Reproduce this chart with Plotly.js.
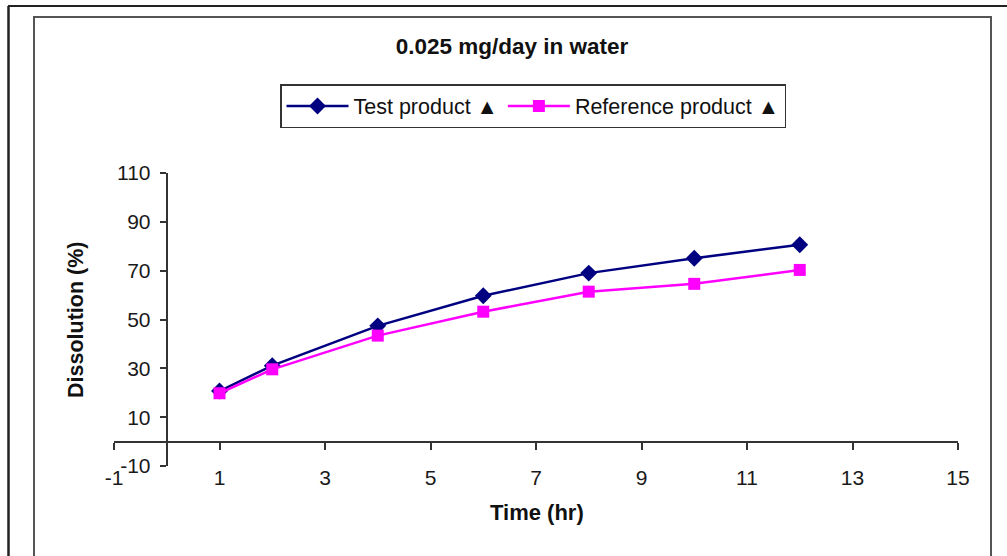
<!DOCTYPE html>
<html>
<head>
<meta charset="utf-8">
<script src="https://cdn.plot.ly/plotly-3.0.1.min.js"></script>
<style>
  html, body { margin: 0; padding: 0; background: #fff; }
  #chart { width: 1007px; height: 556px; }
</style>
</head>
<body>
<div id="chart"></div>
<script>
// Sampling times (hours)
const timeHr = [1, 2, 4, 6, 8, 10, 12];
// Dissolution (%) for each product
const testProduct = [20.7, 31.1, 47.4, 59.7, 69.0, 75.1, 80.6];
const referenceProduct = [19.8, 29.6, 43.4, 53.2, 61.4, 64.6, 70.3];
// Series names
const seriesNames = ['Test product \u25B2', 'Reference product \u25B2'];
// Axis ticks (plain hyphen for negatives)
const xTickVals = [-1, 1, 3, 5, 7, 9, 11, 13, 15];
const xTickText = ['-1', '1', '3', '5', '7', '9', '11', '13', '15'];
const yTickVals = [-10, 10, 30, 50, 70, 90, 110];
const yTickText = ['-10', '10', '30', '50', '70', '90', '110'];

const W = 1007, H = 556;
const px = v => v / W;          // pixel x -> paper fraction
const py = v => 1 - v / H;      // pixel y -> paper fraction

const FONT = 'Liberation Sans, Arial, sans-serif';
const AXIS_COLOR = '#333';
const TICK_SIZE = 21;

const traces = [
  {
    x: timeHr, y: testProduct, name: seriesNames[0],
    type: 'scatter', mode: 'lines+markers',
    line: { color: '#000080', width: 2.5 },
    marker: { symbol: 'diamond', size: 13, color: '#000080' }
  },
  {
    x: timeHr, y: referenceProduct, name: seriesNames[1],
    type: 'scatter', mode: 'lines+markers',
    line: { color: '#FF00FF', width: 2.5 },
    marker: { symbol: 'square', size: 12, color: '#FF00FF' }
  }
];

const layout = {
  width: W, height: H,
  margin: { l: 0, r: 0, t: 0, b: 0 },
  paper_bgcolor: '#fff', plot_bgcolor: 'rgba(0,0,0,0)',
  font: { family: FONT, color: '#1a1a1a', size: TICK_SIZE },
  showlegend: true,
  title: {
    text: '<b>0.025 mg/day in water</b>',
    x: px(512), xanchor: 'center',
    y: py(46), yanchor: 'middle', yref: 'container',
    font: { family: FONT, size: 22.5, color: '#111' }
  },
  xaxis: {
    range: [-1, 15], domain: [px(114), px(958)],
    anchor: 'free', position: py(441.6),
    tickmode: 'array', tickvals: xTickVals, ticktext: xTickText,
    ticks: 'outside', ticklen: 7, tickwidth: 2,
    tickcolor: AXIS_COLOR, showline: true, linecolor: AXIS_COLOR, linewidth: 2,
    showgrid: false, zeroline: false, ticklabelstandoff: 10,
    tickfont: { family: FONT, size: TICK_SIZE, color: '#1a1a1a' }
  },
  yaxis: {
    range: [-10, 110], domain: [py(466), py(173)],
    anchor: 'free', position: px(166.75),
    tickmode: 'array', tickvals: yTickVals, ticktext: yTickText,
    ticks: 'outside', ticklen: 6, tickwidth: 2,
    tickcolor: AXIS_COLOR, showline: true, linecolor: AXIS_COLOR, linewidth: 2,
    showgrid: false, zeroline: false, ticklabelstandoff: 5,
    tickfont: { family: FONT, size: TICK_SIZE, color: '#1a1a1a' }
  },
  legend: {
    orientation: 'h',
    x: px(533), xanchor: 'center',
    y: py(84), yanchor: 'top',
    bgcolor: '#fff', bordercolor: '#333', borderwidth: 1.5,
    itemwidth: 62,
    font: { family: FONT, size: 21.5, color: '#111' }
  },
  annotations: [
    {
      text: '<b>Time (hr)</b>', xref: 'paper', yref: 'paper',
      x: px(537), y: py(512), xanchor: 'center', yanchor: 'middle',
      showarrow: false, font: { family: FONT, size: 22, color: '#111' }
    },
    {
      text: '<b>Dissolution (%)</b>', xref: 'paper', yref: 'paper',
      x: px(76), y: py(320), xanchor: 'center', yanchor: 'middle',
      textangle: -90, showarrow: false,
      font: { family: FONT, size: 21.5, color: '#111' }
    }
  ],
  shapes: [
    // outer frame edges
    { type: 'line', xref: 'paper', yref: 'paper', x0: px(8), x1: 1, y0: py(6), y1: py(6),
      line: { color: '#222', width: 2 } },
    { type: 'line', xref: 'paper', yref: 'paper', x0: px(8.5), x1: px(8.5), y0: py(6), y1: 0,
      line: { color: '#222', width: 2.5 } },
    // chart area border
    { type: 'rect', xref: 'paper', yref: 'paper', x0: px(34), x1: px(991), y0: py(17), y1: py(562),
      line: { color: '#555', width: 2 } }
  ]
};

Plotly.newPlot('chart', traces, layout, { displayModeBar: false, responsive: false });
</script>
</body>
</html>
